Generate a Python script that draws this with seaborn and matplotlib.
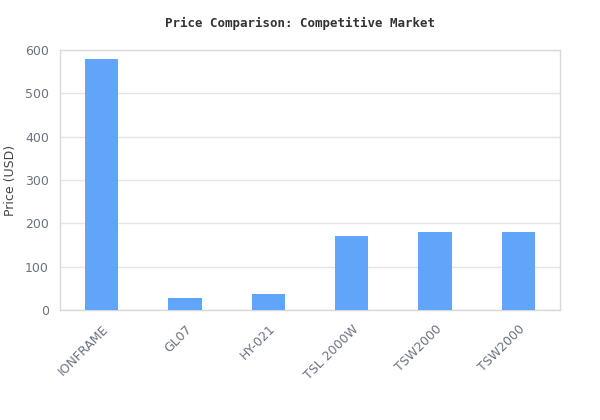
import matplotlib
matplotlib.use("Agg")
import matplotlib.pyplot as plt
import seaborn as sns

# product names (two TSW2000 entries, so plot by position)
products = ["IONFRAME", "GL07", "HY-021", "TSL 2000W", "TSW2000", "TSW2000"]
prices = [580, 28, 37, 170, 180, 180]
positions = list(range(len(products)))

sns.set_theme(style="white")
plt.rcParams["font.family"] = ["DejaVu Sans"]

fig = plt.figure(figsize=(6, 4.2), dpi=100)
ax = fig.add_axes([0.1, 0.262, 0.8333, 0.619])

sns.barplot(x=positions, y=prices, color="#60a5fa", width=0.4, saturation=1,
            linewidth=0, ax=ax, zorder=3)

ax.set_ylim(0, 600)
ax.set_yticks([0, 100, 200, 300, 400, 500, 600])
ax.set_xlim(-0.5, len(products) - 0.5)
ax.set_xticks(positions)
ax.set_xticklabels(products, rotation=45, ha="right", rotation_mode="anchor")
ax.yaxis.grid(True, color="#e5e5e5", linewidth=1, zorder=0)
ax.xaxis.grid(False)
for s in ax.spines.values():
    s.set_color("#d9d9d9")
    s.set_linewidth(1)
ax.tick_params(axis="both", colors="#6b7280", labelsize=9, length=0)
ax.tick_params(axis="y", pad=8)
ax.tick_params(axis="x", pad=9)
ax.set_xlabel("")
ax.set_ylabel("Price (USD)", fontsize=9, color="#444444")
ax.yaxis.set_label_coords(-0.086, 0.5)
fig.suptitle("Price Comparison: Competitive Market", y=0.96, fontsize=9,
             fontweight="bold", family="DejaVu Sans Mono", color="#333333")

fig.savefig("out.png", dpi=100, facecolor="white")
